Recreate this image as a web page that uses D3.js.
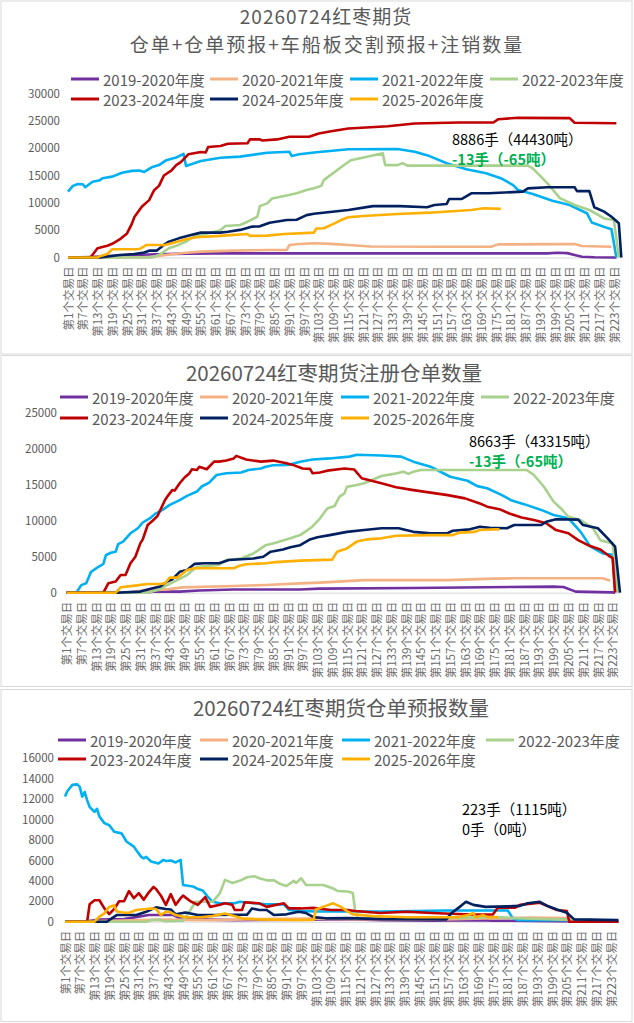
<!DOCTYPE html>
<html lang="zh">
  <head>
    <meta charset="UTF-8" />
    <title>红枣期货仓单</title>
    <script src="https://cdnjs.cloudflare.com/ajax/libs/d3/7.8.5/d3.min.js"></script>
    <style>
      body { margin: 0; background: #fff; }
      svg { display: block; }
      text { font-family: "Noto Sans CJK SC", "Noto Sans", sans-serif; }
    </style>
  </head>
  <body>
    <svg width="634" height="1023"></svg>
    <script>
      // ---- data: [trading day, value] ----
      const seasons = ["2019-2020年度", "2020-2021年度", "2021-2022年度", "2022-2023年度",
                       "2023-2024年度", "2024-2025年度", "2025-2026年度"];
      const dayTicks = [1, 7, 13, 19, 25, 31, 37, 43, 49, 55, 61, 67, 73, 79, 85, 91, 97, 103, 109,
                        115, 121, 127, 133, 139, 145, 151, 157, 163, 169, 175, 181, 187, 193, 199,
                        205, 211, 217, 223];

      // panel 1: 仓单+仓单预报+车船板交割预报+注销
      const total1920 = [[1,0],[10,100],[20,300],[28,450],[37,600],[50,700],[60,750],[100,750],[150,750],[196,760],[200,880],[204,800],[207,460],[210,150],[215,50],[224,0]];
      const total2021 = [[1,0],[34,0],[37,250],[44,650],[49,880],[55,1070],[68,1250],[82,1370],[90,1400],[91,2280],[95,2470],[101,2600],[108,2500],[115,2300],[124,2000],[150,1980],[173,1980],[176,2400],[200,2450],[207,2450],[210,2100],[222,1980]];
      const total2122 = [[1,12050],[3,13100],[5,13450],[7,13400],[8,12850],[11,13850],[14,14150],[15,14500],[19,14800],[23,15500],[27,15850],[30,15900],[32,15650],[35,16500],[38,16900],[41,17800],[45,18300],[48,18950],[49,16750],[55,17650],[63,18250],[71,18450],[82,19150],[91,19350],[92,18550],[95,18900],[102,19250],[115,19800],[135,19850],[142,19350],[148,18550],[155,17250],[163,16150],[171,15400],[177,14500],[182,13250],[184,12350],[190,11600],[198,10400],[205,9600],[212,8100],[214,6400],[219,5600],[222,5150],[223,2600],[224,0]];
      const total2223 = [[1,0],[35,0],[38,450],[42,1700],[46,2300],[49,2900],[52,3800],[57,4300],[63,5000],[65,5750],[71,5950],[74,6550],[78,7450],[79,9400],[82,9900],[84,10800],[89,11250],[94,11750],[98,12350],[101,12650],[104,13100],[105,14150],[112,16500],[116,17800],[124,18550],[129,19050],[130,16900],[135,16900],[137,17250],[139,16800],[188,16800],[190,16300],[196,13550],[201,10850],[207,9600],[213,8700],[219,7150],[223,6850],[225,0]];
      const total2324 = [[1,0],[10,0],[11,500],[13,1700],[17,2150],[19,2500],[22,3300],[25,4400],[27,6200],[28,7400],[31,9300],[34,10500],[36,12300],[38,13100],[40,15000],[43,15900],[45,16900],[47,17500],[50,18900],[55,19300],[57,19200],[58,20200],[63,20400],[66,20800],[74,20900],[75,21600],[79,21600],[80,21400],[86,21600],[91,22100],[99,22100],[103,22700],[108,23100],[115,23600],[131,24000],[142,24500],[160,24700],[174,24700],[176,25300],[184,25550],[205,25500],[207,24650],[224,24550]];
      const total2425 = [[1,0],[14,0],[22,450],[28,650],[32,900],[34,1250],[37,1250],[40,2300],[42,2900],[46,3500],[51,4100],[55,4550],[63,4550],[66,4700],[71,5050],[76,5650],[79,5700],[83,6350],[90,6850],[94,6900],[98,7750],[101,8000],[115,8700],[125,9400],[136,9400],[147,9200],[150,9600],[155,9800],[156,10700],[161,10700],[165,11750],[172,11750],[186,12050],[188,12650],[196,12850],[207,12850],[208,12150],[213,12150],[215,9200],[219,8400],[222,7450],[225,6250],[226,0]];
      const total2526 = [[1,0],[13,0],[14,250],[17,650],[19,1500],[28,1500],[30,1550],[33,2300],[38,2300],[40,2250],[44,2700],[49,3350],[53,3700],[63,3950],[67,4100],[74,4300],[75,3950],[82,4000],[89,4300],[101,4550],[102,5300],[105,5350],[109,6150],[112,6850],[115,7350],[121,7600],[135,7950],[148,8200],[165,8700],[170,9000],[177,8900]];

      // panel 2: 注册仓单
      const reg1920 = [[1,0],[33,0],[36,150],[47,150],[55,300],[69,450],[96,450],[104,560],[142,650],[199,850],[203,800],[208,150],[223,50],[224,0]];
      const reg2021 = [[1,0],[25,0],[31,280],[42,460],[48,740],[69,930],[82,1070],[96,1300],[104,1400],[122,1750],[156,1750],[175,1950],[183,2000],[219,2000],[222,1650]];
      const reg2122 = [[1,0],[5,0],[7,1050],[9,1300],[11,2900],[14,3600],[16,4000],[17,5200],[19,5550],[21,5700],[22,6750],[24,7100],[27,8250],[30,8950],[32,9750],[35,10350],[37,10950],[40,11500],[43,12200],[47,12850],[50,13450],[54,14050],[56,14750],[59,15300],[62,16350],[66,16600],[72,16700],[75,17050],[80,17250],[82,17500],[85,17700],[91,17750],[96,18200],[101,18500],[108,18650],[116,18900],[119,19150],[129,19050],[137,18900],[142,18200],[149,17500],[153,16800],[157,16100],[164,15550],[168,14800],[172,14500],[178,13550],[182,12800],[187,12300],[194,11500],[199,10800],[205,10350],[210,8450],[214,6400],[219,5450],[223,5250],[224,350]];
      const reg2223 = [[1,0],[34,0],[38,370],[42,1050],[46,1750],[50,2450],[54,3600],[58,3700],[63,3850],[66,4550],[72,4750],[77,5450],[82,6600],[86,6950],[92,7550],[96,8000],[99,8700],[101,9200],[104,10300],[107,11700],[110,12050],[112,13350],[114,13800],[115,14700],[119,14950],[122,15200],[129,16200],[134,16500],[138,16800],[140,16500],[142,16800],[145,17050],[188,17050],[191,16350],[195,14750],[199,12650],[202,11700],[205,10550],[210,10100],[215,8950],[218,7300],[223,6850],[225,0]];
      const reg2324 = [[1,0],[16,0],[18,1300],[21,1550],[23,2450],[25,2450],[27,4100],[29,5000],[31,6850],[32,7400],[34,9400],[36,10000],[38,10650],[41,12850],[42,13350],[44,14250],[45,14200],[47,15200],[49,16000],[51,16600],[52,17150],[54,17050],[55,17500],[58,17150],[61,18200],[63,18200],[66,18350],[69,18650],[70,19000],[74,18500],[80,18200],[85,18350],[90,18000],[93,17750],[97,17250],[100,17200],[101,16600],[104,16700],[107,16950],[114,17250],[118,17100],[121,15900],[125,15550],[129,15200],[135,14650],[142,14250],[149,13900],[156,13550],[163,13100],[169,12400],[172,11950],[177,11600],[181,11000],[186,10450],[191,10100],[196,9650],[200,8700],[205,8250],[209,7300],[213,6600],[218,6000],[222,5000],[223,4800],[224,0]];
      const reg2425 = [[1,0],[21,0],[31,150],[34,450],[39,850],[42,1550],[44,1850],[47,2900],[50,3150],[53,4000],[57,4100],[63,4100],[67,4550],[72,4650],[77,4750],[81,5000],[84,5700],[89,6000],[92,6300],[96,6600],[100,7400],[103,7700],[108,8000],[115,8450],[122,8700],[129,8950],[136,8950],[142,8450],[149,8250],[156,8300],[158,8600],[165,8800],[169,9150],[173,9000],[180,8950],[183,9400],[194,9400],[196,9850],[200,10200],[209,10150],[211,9400],[217,8950],[221,7550],[224,6400],[226,0]];
      const reg2526 = [[1,0],[21,0],[23,750],[28,950],[34,1200],[39,1200],[41,1300],[43,2100],[46,2100],[48,2600],[50,3150],[53,3400],[69,3400],[71,3700],[74,3950],[82,4100],[86,4250],[96,4450],[109,4600],[111,5700],[115,6150],[119,7100],[123,7400],[129,7550],[135,7900],[149,8000],[158,8000],[161,8350],[167,8450],[169,8700],[175,8800],[177,8800]];

      // panel 3: 仓单预报
      const fc1920 = [[1,0],[10,50],[15,200],[25,250],[31,500],[35,650],[45,650],[48,300],[60,200],[70,150],[100,200],[115,250],[130,150],[150,100],[170,150],[175,100],[200,50],[226,0]];
      const fc2021 = [[1,0],[20,100],[40,200],[60,150],[80,250],[100,300],[120,250],[150,200],[177,350],[190,400],[205,350],[210,100],[226,0]];
      const fc2122 = [[1,12250],[2,12800],[4,13400],[6,13450],[7,13200],[8,12250],[9,12700],[10,11900],[11,11250],[13,10750],[14,11050],[15,10300],[17,9650],[19,9450],[21,8800],[24,8650],[26,7850],[29,7350],[30,7000],[32,6350],[33,6200],[34,6350],[36,5900],[39,5700],[41,6050],[42,5950],[44,6000],[46,5800],[48,6050],[49,3600],[53,3450],[55,3200],[57,3050],[59,2450],[61,1950],[64,1800],[70,1800],[72,1950],[78,1800],[83,1700],[90,1700],[92,1150],[97,1050],[103,1000],[130,1000],[156,1100],[181,1100],[183,350],[185,150],[215,150],[224,0]];
      const fc2223 = [[1,0],[34,0],[36,150],[39,200],[42,50],[49,100],[52,1150],[54,1950],[57,1950],[61,1950],[64,2800],[66,4100],[69,3800],[72,4000],[75,4350],[78,4450],[80,4250],[83,4050],[86,4050],[88,3750],[91,3500],[94,4000],[95,3800],[97,4250],[99,3600],[102,3600],[106,3600],[110,3250],[112,3000],[116,2950],[118,2800],[119,1000],[120,350],[150,350],[177,450],[184,350],[210,150],[224,0]];
      const fc2324 = [[1,0],[10,0],[11,1700],[13,2100],[15,2100],[17,1300],[19,750],[21,1250],[23,2000],[25,2000],[27,3000],[29,2300],[31,2800],[33,2150],[35,2850],[37,3400],[38,3200],[40,2550],[42,1650],[44,2700],[46,1650],[48,2300],[49,2550],[52,2000],[55,1650],[58,2400],[60,1450],[64,1650],[66,1800],[69,1650],[70,1150],[73,1150],[74,1900],[80,1800],[83,1450],[87,1650],[90,1800],[92,1300],[97,1300],[102,1350],[109,1150],[116,1150],[119,1050],[129,850],[140,980],[150,850],[166,700],[175,720],[177,1380],[184,1380],[186,1650],[194,1850],[201,1150],[205,1050],[206,0],[226,0]];
      const fc2425 = [[1,0],[18,0],[20,330],[22,650],[30,650],[34,980],[38,1400],[42,1250],[44,1200],[46,720],[50,900],[55,650],[63,650],[70,680],[75,680],[77,1300],[80,1150],[83,1150],[86,650],[91,720],[96,980],[99,850],[102,450],[107,330],[116,350],[130,250],[156,230],[158,820],[162,1550],[164,1950],[167,1650],[172,1450],[181,1500],[186,1550],[189,1800],[194,1950],[197,1550],[201,1200],[205,880],[208,230],[226,150]];
      const fc2526 = [[1,0],[13,0],[15,500],[17,820],[19,1450],[21,1600],[22,1000],[25,880],[27,880],[30,1150],[32,1200],[36,1300],[38,1250],[40,650],[42,1000],[44,900],[46,650],[50,430],[56,430],[61,550],[66,800],[69,600],[73,330],[80,230],[94,170],[102,180],[103,1200],[107,1550],[110,1800],[113,1480],[116,980],[118,720],[126,560],[140,430],[160,430],[165,650],[167,850],[168,430],[171,650],[173,430],[177,430]];

      const colors = ["#7030A0", "#F4B183", "#00B0F0", "#A9D18E", "#C00000", "#002060", "#FFB000"];

      // ---- layout for each panel ----
      const panels = [
        {
          box: [1, 1, 631, 353],
          titles: [["20260724红枣期货", 326, 15.5, 19, 1], ["仓单+仓单预报+车船板交割预报+注销数量", 327, 43.5, 19, 2]],
          legendRows: [79, 99], legendCols: [71, 210, 350, 490],
          series: [total1920, total2021, total2122, total2223, total2324, total2425, total2526],
          yMax: 30000, yStep: 5000, yRange: [257.5, 93.5], xRange: [68, 621.3], yLabelX: 60,
          notes: [["8886手（44430吨）", 452, 138, "#000", "normal"], ["-13手（-65吨）", 452, 158, "#00B050", "bold"]]
        },
        {
          box: [1, 355.5, 631, 331],
          titles: [["20260724红枣期货注册仓单数量", 334, 372, 20.5, 0]],
          legendRows: [397, 418], legendCols: [60, 200, 341, 481],
          series: [reg1920, reg2021, reg2122, reg2223, reg2324, reg2425, reg2526],
          yMax: 25000, yStep: 5000, yRange: [592.7, 412.7], xRange: [66.5, 620], yLabelX: 57,
          notes: [["8663手（43315吨）", 469, 440, "#000", "normal"], ["-13手（-65吨）", 469, 460, "#00B050", "bold"]]
        },
        {
          box: [1, 689.5, 631, 332],
          titles: [["20260724红枣期货仓单预报数量", 341, 707, 20.5, 0]],
          legendRows: [740, 759], legendCols: [58, 200, 342, 486],
          series: [fc1920, fc2021, fc2122, fc2223, fc2324, fc2425, fc2526],
          yMax: 16000, yStep: 2000, yRange: [921.7, 758.3], xRange: [65, 618.5], yLabelX: 54,
          notes: [["223手（1115吨）", 462, 808, "#000", "normal"], ["0手（0吨）", 462, 828, "#000", "normal"]]
        }
      ];

      const svg = d3.select("svg");

      panels.forEach((p) => {
        const g = svg.append("g");

        g.append("rect")
          .attr("x", p.box[0]).attr("y", p.box[1])
          .attr("width", p.box[2]).attr("height", p.box[3])
          .attr("fill", "#fff").attr("stroke", "#D9D9D9");

        p.titles.forEach(([t, tx, ty, fs, ls]) => {
          g.append("text").text(t)
            .attr("x", tx).attr("y", ty)
            .attr("text-anchor", "middle").attr("dominant-baseline", "central")
            .attr("font-size", fs).attr("letter-spacing", ls).attr("fill", "#595959");
        });

        // legend: 4 per row
        seasons.forEach((s, i) => {
          const lx = p.legendCols[i % 4];
          const ly = p.legendRows[Math.floor(i / 4)];
          g.append("line")
            .attr("x1", lx).attr("x2", lx + 28).attr("y1", ly).attr("y2", ly)
            .attr("stroke", colors[i]).attr("stroke-width", 3);
          g.append("text").text(s)
            .attr("x", lx + 32).attr("y", ly)
            .attr("dominant-baseline", "central")
            .attr("font-size", 15).attr("fill", "#595959");
        });

        const x = d3.scaleLinear().domain([1, 226]).range(p.xRange);
        const y = d3.scaleLinear().domain([0, p.yMax]).range(p.yRange);

        // y axis labels only
        const yAxis = g.append("g")
          .attr("transform", `translate(${p.yLabelX},0)`)
          .call(d3.axisLeft(y).tickValues(d3.range(0, p.yMax + 1, p.yStep))
            .tickFormat(d3.format("d")).tickSize(0).tickPadding(0));
        yAxis.select(".domain").remove();
        yAxis.selectAll("text")
          .attr("font-size", 11.5).attr("fill", "#595959")
          .style("font-family", '"Noto Sans CJK SC", sans-serif');

        // x axis with rotated labels
        const xAxis = g.append("g")
          .attr("transform", `translate(0,${p.yRange[0]})`)
          .call(d3.axisBottom(x).tickValues(dayTicks).tickSizeOuter(0).tickSize(0)
            .tickFormat((d) => `第${d}个交易日`));
        xAxis.select(".domain").attr("stroke", "#D9D9D9");
        xAxis.selectAll("text")
          .attr("transform", "rotate(-90)")
          .attr("x", -9).attr("y", 0).attr("dy", "0.36em")
          .attr("text-anchor", "end")
          .attr("font-size", 11.5).attr("fill", "#6b6b6b")
          .style("font-family", '"Noto Sans CJK SC", sans-serif');

        const line = d3.line()
          .x((d) => x(d[0]))
          .y((d) => y(d[1]));

        p.series.forEach((data, i) => {
          g.append("path")
            .attr("d", line(data))
            .attr("fill", "none")
            .attr("stroke", colors[i])
            .attr("stroke-width", 2.6)
            .attr("stroke-linejoin", "round");
        });

        p.notes.forEach(([t, nx, ny, c, w]) => {
          g.append("text").text(t)
            .attr("x", nx).attr("y", ny)
            .attr("dominant-baseline", "central")
            .attr("font-size", 14.5).attr("font-weight", w).attr("fill", c);
        });
      });
    </script>
  </body>
</html>
